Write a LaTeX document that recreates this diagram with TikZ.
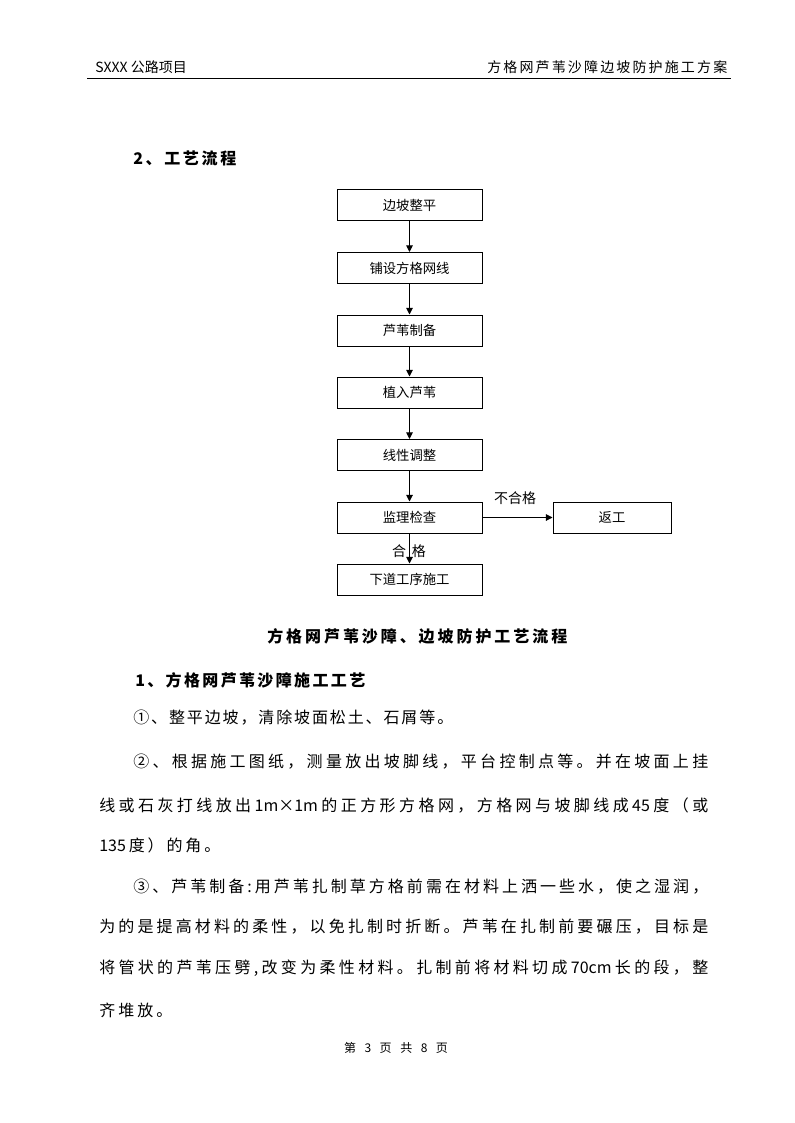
\documentclass[tikz,border=0pt]{standalone}
\usepackage{fontspec}
\setmainfont{Noto Sans CJK SC}
\usetikzlibrary{arrows.meta}
\makeatletter
\def\spr@end{\spr@end}
\newcommand\spreadbox[2]{\makebox[#1][s]{\spr@first#2\spr@end}}
\def\spr@first#1{\ifx\spr@end#1\else#1\expandafter\spr@next\fi}
\def\spr@next#1{\ifx\spr@end#1\else\hfill#1\expandafter\spr@next\fi}
\makeatother
\begin{document}
\begin{tikzpicture}[x=0.75pt,y=-0.75pt,
  flowbox/.style={draw,line width=0.75pt,minimum width=108.75pt,minimum height=23.25pt,inner sep=0pt,font=\fontsize{10pt}{12pt}\selectfont},
  flowarrow/.style={line width=0.75pt,-{Triangle[length=5pt,width=5pt]}},
  txt/.style={inner sep=0pt,anchor=west},
  body/.style={txt,font=\fontsize{12pt}{14pt}\selectfont},
  heading/.style={txt,font=\fontsize{12pt}{14pt}\selectfont\bfseries},
  small/.style={inner sep=0pt,font=\fontsize{10.5pt}{12pt}\selectfont},
  foot/.style={inner sep=0pt,font=\fontsize{9pt}{11pt}\selectfont}]
\path[use as bounding box,fill=white] (0,0) rectangle (794,1123);
% header
\node[small,anchor=west] (hl) at (95,67) {SXXX 公路项目};
\node[small,anchor=west] (hr) at (487,67) {\spreadbox{180pt}{方格网芦苇沙障边坡防护施工方案}};
\coordinate (rl) at (87,79);
\coordinate (rr) at (731,79);
\draw[line width=0.75pt] (rl) -- (rr);
% heading
\node[heading] (h2) at (133,158) {\spreadbox{77.25pt}{2、工艺流程}};
% flowchart
\node[flowbox] (b1) at (409.5,205.5) {边坡整平};
\node[flowbox] (b2) at (409.5,268) {铺设方格网线};
\node[flowbox] (b3) at (409.5,330.5) {芦苇制备};
\node[flowbox] (b4) at (409.5,392.5) {植入芦苇};
\node[flowbox] (b5) at (409.5,455) {线性调整};
\node[flowbox] (b6) at (409.5,517.5) {监理检查};
\node[flowbox] (b7) at (409.5,579.5) {下道工序施工};
\node[flowbox,minimum width=88.5pt] (rw) at (612,517.5) {返工};
\draw[flowarrow] (b1) -- (b2);
\draw[flowarrow] (b2) -- (b3);
\draw[flowarrow] (b3) -- (b4);
\draw[flowarrow] (b4) -- (b5);
\draw[flowarrow] (b5) -- (b6);
\draw[flowarrow] (b6) -- (b7);
\draw[flowarrow] (b6) -- (rw);
\node[small] (ng) at (515,498) {不合格};
\node[small] (hg) at (409,551) {\spreadbox{25.5pt}{合格}};
% caption and text
\node[heading] (cap) at (267,636) {\spreadbox{225pt}{方格网芦苇沙障、边坡防护工艺流程}};
\node[heading] (h1) at (135,680) {\spreadbox{172.5pt}{1、方格网芦苇沙障施工工艺}};
\node[body] (p1) at (133,718) {\spreadbox{240pt}{①、整平边坡，清除坡面松土、石屑等。}};
\node[body] (p2) at (133,762) {\spreadbox{431.25pt}{②、根据施工图纸，测量放出坡脚线，平台控制点等。并在坡面上挂}};
\node[body] (p3) at (99,805) {\spreadbox{456.75pt}{线或石灰打线放出{1m×1m}的正方形方格网，方格网与坡脚线成{45}度（或}};
\node[body] (p4) at (99,845) {\spreadbox{90.75pt}{{135}度）的角。}};
\node[body] (p5) at (133,887) {\spreadbox{431.25pt}{③、芦苇制备:用芦苇扎制草方格前需在材料上洒一些水，使之湿润，}};
\node[body] (p6) at (99,927) {\spreadbox{456.75pt}{为的是提高材料的柔性，以免扎制时折断。芦苇在扎制前要碾压，目标是}};
\node[body] (p7) at (99,968) {\spreadbox{456.75pt}{将管状的芦苇压劈,改变为柔性材料。扎制前将材料切成{70cm}长的段，整}};
\node[body] (p8) at (99,1010) {\spreadbox{54.75pt}{齐堆放。}};
% footer
\node[foot] (ft) at (396,1048) {\spreadbox{78pt}{第3页共8页}};
\end{tikzpicture}
\end{document}
